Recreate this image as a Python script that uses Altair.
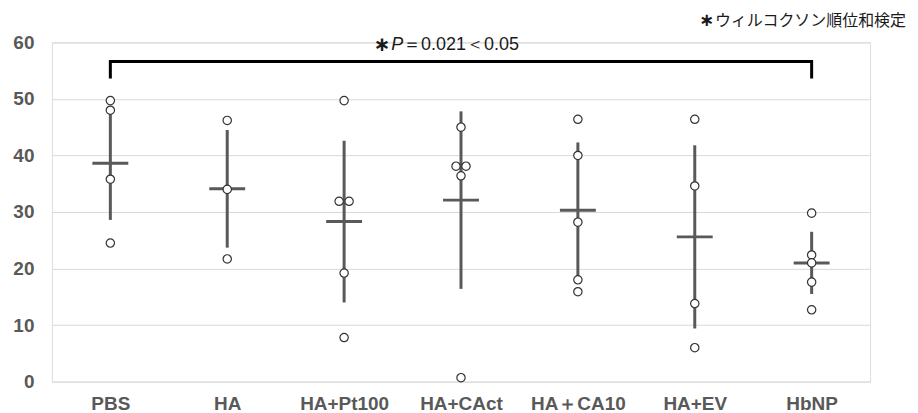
import altair as alt
import pandas as pd

# ---- data ----
groups = ["PBS", "HA", "HA+Pt100", "HA+CAct", "HA＋CA10", "HA+EV", "HbNP"]
means = [38.6, 34.1, 28.3, 32.1, 30.3, 25.6, 21.0]
sds = [10.0, 10.4, 14.3, 15.7, 12.0, 16.2, 5.5]

pt_group = (["PBS"] * 4 + ["HA"] * 3 + ["HA+Pt100"] * 5 + ["HA+CAct"] * 5
            + ["HA＋CA10"] * 5 + ["HA+EV"] * 4 + ["HbNP"] * 5)
pt_value = [49.7, 48.0, 35.8, 24.5,
            46.2, 34.0, 21.7,
            49.7, 31.9, 31.9, 19.2, 7.8,
            45.0, 38.1, 38.1, 36.4, 0.7,
            46.4, 40.0, 28.2, 18.0, 15.9,
            46.4, 34.6, 13.8, 6.0,
            29.8, 22.4, 21.0, 17.6, 12.7]
# side-by-side placement of overlapping dots: -1 left, 0 centre, 1 right
pt_side = [0, 0, 0, 0,
           0, 0, 0,
           0, -1, 1, 0, 0,
           0, -1, 1, 0, 0,
           0, 0, 0, 0, 0,
           0, 0, 0, 0,
           0, 0, 0, 0, 0]

bracket_group = ["PBS", "PBS", "HbNP", "HbNP"]
bracket_value = [53.6, 56.6, 56.6, 53.6]

y_ticks = [0, 10, 20, 30, 40, 50, 60]

summary = pd.DataFrame({
    "group": groups,
    "mean": means,
    "lo": [m - s for m, s in zip(means, sds)],
    "hi": [m + s for m, s in zip(means, sds)],
})
points = pd.DataFrame({"group": pt_group, "value": pt_value, "side": pt_side})
bracket = pd.DataFrame({"group": bracket_group, "value": bracket_value,
                        "order": list(range(len(bracket_group)))})

x_enc = alt.X("group:N", sort=groups,
              scale=alt.Scale(type="point", padding=0.5),
              axis=alt.Axis(title=None, labelAngle=0, ticks=False, domain=False,
                            labelPadding=13, labelFontSize=19, labelFontWeight="bold",
                            labelColor="#595959", labelFont="Liberation Sans",
                            grid=False))
y_scale = alt.Scale(domain=[0, 60], nice=False, zero=True)
y_axis = alt.Axis(title=None, values=y_ticks, ticks=False, domain=False,
                  labelPadding=18, labelFontSize=19, labelFontWeight="bold",
                  labelColor="#595959", labelFont="Liberation Sans",
                  grid=True, gridColor="#d9d9d9", gridWidth=1)

base_s = alt.Chart(summary)

grid_layer = base_s.mark_rule(opacity=0).encode(
    x=x_enc, y=alt.Y("mean:Q", scale=y_scale, axis=y_axis))

err = base_s.mark_rule(color="#595959", strokeWidth=3, opacity=1).encode(
    x=alt.X("group:N", sort=groups),
    y=alt.Y("lo:Q", scale=y_scale), y2="hi:Q")

mean_tick = base_s.mark_tick(color="#595959", thickness=3, size=36,
                             orient="horizontal", opacity=1).encode(
    x=alt.X("group:N", sort=groups), y=alt.Y("mean:Q", scale=y_scale))

dots = alt.Chart(points).mark_point(
    shape="circle", filled=False, fill="white", fillOpacity=1,
    stroke="#333333", strokeWidth=1.2, size=70, opacity=1
).encode(
    x=alt.X("group:N", sort=groups),
    xOffset=alt.XOffset("side:Q", scale=alt.Scale(domain=[-1, 1], range=[-5, 5])),
    y=alt.Y("value:Q", scale=y_scale),
)

bracket_line = alt.Chart(bracket).mark_line(color="black", strokeWidth=3,
                                            strokeJoin="miter", strokeCap="butt").encode(
    x=alt.X("group:N", sort=groups), y=alt.Y("value:Q", scale=y_scale),
    order="order:Q")

ann = pd.DataFrame({"group": ["HA+CAct"], "value": [59.6]})
ann_star = alt.Chart(ann).mark_text(text="∗", align="center", baseline="middle",
                                    fontSize=20, fontWeight="bold", dx=-79,
                                    color="#1a1a1a", font="DejaVu Sans").encode(
    x=alt.X("group:N", sort=groups), y=alt.Y("value:Q", scale=y_scale))
ann_p = alt.Chart(ann).mark_text(text="P", align="left", baseline="middle",
                                 fontSize=18, fontStyle="italic", dx=-70,
                                 color="#1a1a1a", font="Liberation Sans").encode(
    x=alt.X("group:N", sort=groups), y=alt.Y("value:Q", scale=y_scale))
ann_rest = alt.Chart(ann).mark_text(text="＝0.021＜0.05", align="left",
                                    baseline="middle", fontSize=18, dx=-58,
                                    color="#1a1a1a", font="Liberation Sans").encode(
    x=alt.X("group:N", sort=groups), y=alt.Y("value:Q", scale=y_scale))

note = pd.DataFrame({"value": [63.8]})
note_star = alt.Chart(note).mark_text(text="∗", align="center", baseline="middle",
                                      fontSize=18, fontWeight="bold",
                                      color="#1a1a1a", font="DejaVu Sans").encode(
    x=alt.value(656), y=alt.Y("value:Q", scale=y_scale))
note_text = alt.Chart(note).mark_text(text="ウィルコクソン順位和検定", align="right",
                                      baseline="middle", fontSize=16,
                                      color="#1a1a1a", font="Noto Sans CJK JP").encode(
    x=alt.value(856), y=alt.Y("value:Q", scale=y_scale))

chart = alt.layer(grid_layer, err, mean_tick, dots, bracket_line,
                  ann_star, ann_p, ann_rest, note_star, note_text).properties(
    width=820, height=340,
    padding={"left": 44, "top": 34, "right": 40, "bottom": 31},
    autosize=alt.AutoSizeParams(type="none"),
).configure_view(stroke=None).configure(background="white")

chart.save("out.html", embed_options={"renderer": "svg", "actions": False})
